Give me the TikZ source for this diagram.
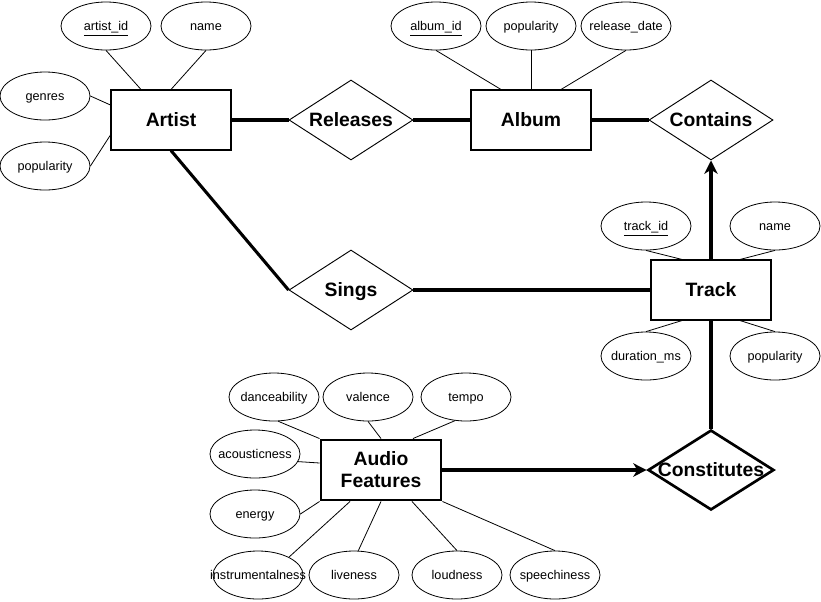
\documentclass[tikz,border=0pt]{standalone}
\usepackage{fontspec}
\setmainfont{Liberation Sans}
\usetikzlibrary{shapes.geometric,arrows.meta,calc}

\tikzset{
    entity/.style={draw, line width=0.8pt, minimum width=90pt, minimum height=45pt, inner sep=0pt, align=center, text height=13.1pt, text depth=3.1pt, font=\fontsize{14.5}{16.5}\selectfont\bfseries},
    relation/.style={diamond, draw, line width=0.7pt, minimum width=93pt, minimum height=60pt, inner sep=0pt, label={[font=\fontsize{14.5}{16.5}\selectfont\bfseries, text height=13.1pt, text depth=3.1pt]center:#1}},
    attr/.style={ellipse, draw, line width=0.6pt, minimum width=67.5pt, minimum height=36pt, inner sep=0pt, label={[font=\fontsize{9.5}{11}\selectfont, text height=8.6pt, text depth=2pt]center:#1}},
    link/.style={line width=0.6pt},
    boldlink/.style={line width=2.3pt},
    tip/.style={-{Stealth[length=10pt, width=10pt, inset=3pt]}}
}

\begin{document}
\begin{tikzpicture}[x=0.75pt, y=-0.75pt]
    \useasboundingbox (0,0) rectangle (821,601);

    % entities
    \node[entity] (artist) at (171,120) {Artist};
    \node[entity] (album) at (531,120) {Album};
    \node[entity] (track) at (711,290) {Track};
    \node[entity, line width=2.2pt, text height=, text depth=] (audio) at (381,470) {Audio\\Features};

    % relationships
    \node[relation=Releases] (releases) at (351,120) {};
    \node[relation=Contains] (contains) at (711,120) {};
    \node[relation=Sings] (sings) at (351,290) {};
    \node[relation=Constitutes, line width=2pt, minimum width=94.5pt] (constitutes) at (711,470) {};

    % artist attributes
    \node[attr=\underline{artist\_id}] (artistid) at (106,26) {};
    \node[attr=name] (artistname) at (206,26) {};
    \node[attr=genres] (genres) at (45,96) {};
    \node[attr=popularity] (artistpop) at (45,166) {};

    % album attributes
    \node[attr=\underline{album\_id}] (albumid) at (436,26) {};
    \node[attr=popularity] (albumpop) at (531,26) {};
    \node[attr=release\_date] (releasedate) at (626,26) {};

    % track attributes
    \node[attr=\underline{track\_id}] (trackid) at (646,226) {};
    \node[attr=name] (trackname) at (775,226) {};
    \node[attr=duration\_ms] (duration) at (646,356) {};
    \node[attr=popularity] (trackpop) at (775,356) {};

    % audio feature attributes
    \node[attr=danceability] (dance) at (274,397) {};
    \node[attr=valence] (valence) at (368,397) {};
    \node[attr=tempo] (tempo) at (466,397) {};
    \node[attr=acousticness] (acoustic) at (255,454) {};
    \node[attr=energy] (energy) at (255,514) {};
    \node[attr=instrumentalness] (instrumental) at (258,575) {};
    \node[attr=liveness] (liveness) at (354,575) {};
    \node[attr=loudness] (loudness) at (457,575) {};
    \node[attr=speechiness] (speech) at (555,575) {};

    \draw[link] (artistid.south) -- ($(artist.north)+(-30,0)$);
    \draw[link] (artistname.south) -- (artist.north);
    \draw[link] (genres.east) -- ($(artist.west)+(0,-15)$);
    \draw[link] (artistpop.east) -- ($(artist.west)+(0,15)$);

    \draw[link] (albumid.south) -- ($(album.north)+(-30,0)$);
    \draw[link] (albumpop.south) -- (album.north);
    \draw[link] (releasedate.south) -- ($(album.north)+(30,0)$);

    \draw[link] (trackid.south) -- ($(track.north)+(-29,0)$);
    \draw[link] (trackname.south) -- ($(track.north)+(29,0)$);
    \draw[link] (duration.north) -- ($(track.south)+(-29,0)$);
    \draw[link] (trackpop.north) -- ($(track.south)+(29,0)$);

    \draw[link] (dance.-80) -- (audio.north west);
    \draw[link] (valence.south) -- (audio.north);
    \draw[link] (tempo.-115) -- ($(audio.north)+(32,0)$);
    \draw[link] (acoustic.-10) -- ($(audio.west)+(0,-7)$);
    \draw[link] (energy.east) -- (audio.south west);
    \draw[link] (instrumental.30) -- ($(audio.south)+(-31,0)$);
    \draw[link] (liveness.80) -- (audio.south);
    \draw[link] (loudness.north) -- ($(audio.south)+(31,0)$);
    \draw[link] (speech.north) -- (audio.south east);

    % relationship links
    \draw[boldlink] (artist) -- (releases);
    \draw[boldlink] (releases) -- (album);
    \draw[boldlink] (album) -- (contains);
    \draw[boldlink] (artist.south) -- (sings.west);
    \draw[boldlink] (sings) -- (track);
    \draw[boldlink, tip] (track) -- (contains);
    \draw[boldlink] (track) -- (constitutes);
    \draw[boldlink, tip] (audio) -- (constitutes);
\end{tikzpicture}
\end{document}
